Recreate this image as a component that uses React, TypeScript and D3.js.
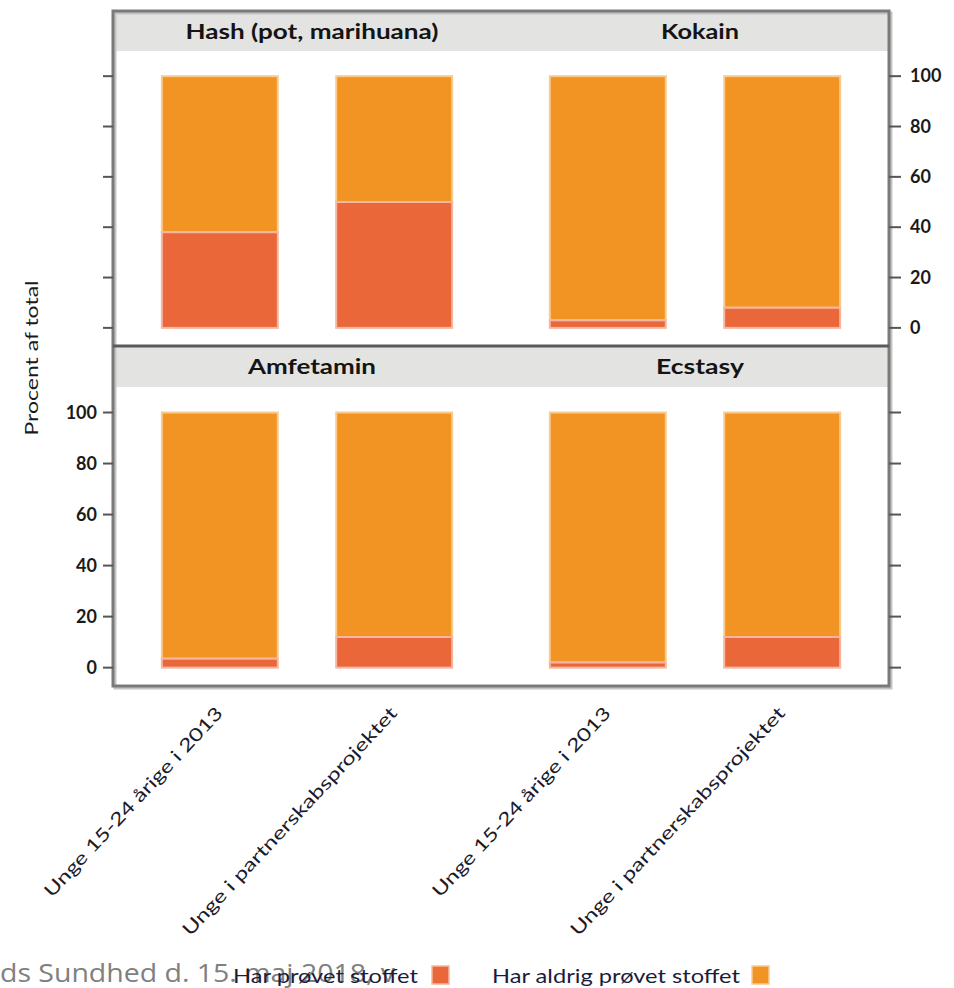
import React from "react";
import * as d3 from "d3";

const drugs = ["Hash (pot, marihuana)", "Kokain", "Amfetamin", "Ecstasy"];
const groups = ["Unge 15-24 årige i 2013", "Unge i partnerskabsprojektet"];
const tried2013 = [38, 3, 3.5, 2];
const triedPartner = [50, 8, 12, 12];
const yTicks = [0, 20, 40, 60, 80, 100];
const legendLabels = ["Har prøvet stoffet", "Har aldrig prøvet stoffet"];
const yTitle = "Procent af total";
const footerText = "ds Sundhed d. 15. maj 2018, v";

const RED = "#ea673a";
const ORANGE = "#f29423";
const RED_EDGE = "#f6b7a2";
const ORANGE_EDGE = "#f9cb91";
const STRIP = "#e3e3e1";

const W = 954;
const H = 988;
const frameL = 113;
const frameR = 889;
const frameMid = 501;
const rows = [
  { stripTop: 11, panelTop: 51, panelBottom: 346 },
  { stripTop: 346, panelTop: 387, panelBottom: 686 },
];
const cols = [
  { left: frameL, right: frameMid },
  { left: frameMid, right: frameR },
];
// approximate rendered widths of the strip titles
const stripTextWidth = [253, 78, 128, 88];

export default function App() {
  const font = "Lato, 'Open Sans', sans-serif";
  const panels = drugs.map((d, i) => {
    const r = rows[Math.floor(i / 2)];
    const c = cols[i % 2];
    const x = d3
      .scaleBand<string>()
      .domain(groups)
      .range([c.left, c.right])
      .paddingInner(0.335)
      .paddingOuter(0.28);
    const y = d3
      .scaleLinear()
      .domain([-7.2, 110])
      .range([r.panelBottom, r.panelTop]);
    const vals = [tried2013[i], triedPartner[i]];
    return { d, i, r, c, x, y, vals };
  });

  return (
    <svg
      width={W}
      height={H}
      style={{ position: "absolute", left: 0, top: 0, background: "#fff" }}
      fontFamily={font}
    >
      {panels.map((p) => (
        <g key={"bg" + p.i}>
          <rect
            x={p.c.left}
            y={p.r.stripTop}
            width={p.c.right - p.c.left}
            height={p.r.panelTop - p.r.stripTop}
            fill={STRIP}
          />
          <text
            x={(p.c.left + p.c.right) / 2 + 5}
            y={p.r.stripTop + 28}
            textAnchor="middle"
            fontSize={21}
            fontWeight={700}
            fill="#141414"
            textLength={stripTextWidth[p.i]}
            lengthAdjust="spacingAndGlyphs"
          >
            {p.d}
          </text>
        </g>
      ))}

      {panels.map((p) =>
        groups.map((g, j) => {
          const v = p.vals[j];
          const bx = p.x(g)!;
          const bw = p.x.bandwidth();
          return (
            <g key={"bar" + p.i + "-" + j}>
              <rect
                x={bx}
                y={p.y(100)}
                width={bw}
                height={p.y(v) - p.y(100)}
                fill={ORANGE}
                stroke={ORANGE_EDGE}
                strokeWidth={2}
              />
              <rect
                x={bx}
                y={p.y(v)}
                width={bw}
                height={p.y(0) - p.y(v)}
                fill={RED}
                stroke={RED_EDGE}
                strokeWidth={2}
              />
            </g>
          );
        })
      )}

      <rect
        x={frameL + 2}
        y={rows[0].stripTop + 2}
        width={frameR - frameL}
        height={rows[1].panelBottom - rows[0].stripTop}
        fill="none"
        stroke="#c4c4c4"
        strokeWidth={3}
      />
      <rect
        x={frameL}
        y={rows[0].stripTop}
        width={frameR - frameL}
        height={rows[1].panelBottom - rows[0].stripTop}
        fill="none"
        stroke="#7a7a7a"
        strokeWidth={3}
      />
      <line
        x1={frameL}
        x2={frameR}
        y1={rows[1].stripTop}
        y2={rows[1].stripTop}
        stroke="#5a5a5a"
        strokeWidth={3}
      />

      {panels
        .filter((p) => p.i % 2 === 0)
        .map((p) => (
          <g key={"la" + p.i}>
            {yTicks.map((t) => (
              <g key={t}>
                <line
                  x1={frameL - 10}
                  x2={frameL}
                  y1={p.y(t)}
                  y2={p.y(t)}
                  stroke="#555"
                  strokeWidth={2}
                />
                {p.i === 2 && (
                  <text
                    x={frameL - 16}
                    y={p.y(t)}
                    dy="0.35em"
                    textAnchor="end"
                    fontSize={18}
                    fontWeight={700}
                    fill="#1a1a1a"
                  >
                    {t}
                  </text>
                )}
              </g>
            ))}
          </g>
        ))}

      {panels
        .filter((p) => p.i % 2 === 1)
        .map((p) => (
          <g key={"ra" + p.i}>
            {yTicks.map((t) => (
              <g key={t}>
                <line
                  x1={frameR}
                  x2={frameR + 12}
                  y1={p.y(t)}
                  y2={p.y(t)}
                  stroke="#555"
                  strokeWidth={2}
                />
                {p.i === 1 && (
                  <text
                    x={frameR + 21}
                    y={p.y(t)}
                    dy="0.35em"
                    textAnchor="start"
                    fontSize={18}
                    fontWeight={700}
                    fill="#1a1a1a"
                  >
                    {t}
                  </text>
                )}
              </g>
            ))}
          </g>
        ))}

      <text
        transform={`translate(38, 358) rotate(-90)`}
        textAnchor="middle"
        fontSize={17}
        fill="#1a1a1a"
        textLength={155}
        lengthAdjust="spacingAndGlyphs"
      >
        {yTitle}
      </text>

      {panels
        .filter((p) => p.i >= 2)
        .map((p) =>
          groups.map((g, j) => {
            const cx = p.x(g)! + p.x.bandwidth() / 2;
            return (
              <text
                key={"xl" + p.i + j}
                transform={`translate(${cx + 4}, 714) rotate(-47)`}
                textAnchor="end"
                fontSize={18}
                fill="#1a1a2a"
                textLength={j === 0 ? 252 : 305}
                lengthAdjust="spacingAndGlyphs"
              >
                {g}
              </text>
            );
          })
        )}

      <text
        x={0}
        y={982}
        fontSize={25}
        fill="#808080"
        fontFamily="'Open Sans', sans-serif"
        textLength={395}
        lengthAdjust="spacingAndGlyphs"
      >
        {footerText}
      </text>

      <text
        x={233}
        y={983}
        fontSize={19}
        fill="#1c1c3a"
        textLength={185}
        lengthAdjust="spacingAndGlyphs"
      >
        {legendLabels[0]}
      </text>
      <rect x={432} y={966} width={17} height={18} fill={RED} stroke={RED_EDGE} strokeWidth={1.5} />
      <text
        x={492}
        y={983}
        fontSize={19}
        fill="#1c1c3a"
        textLength={248}
        lengthAdjust="spacingAndGlyphs"
      >
        {legendLabels[1]}
      </text>
      <rect x={752} y={966} width={17} height={18} fill={ORANGE} stroke={ORANGE_EDGE} strokeWidth={1.5} />
    </svg>
  );
}
